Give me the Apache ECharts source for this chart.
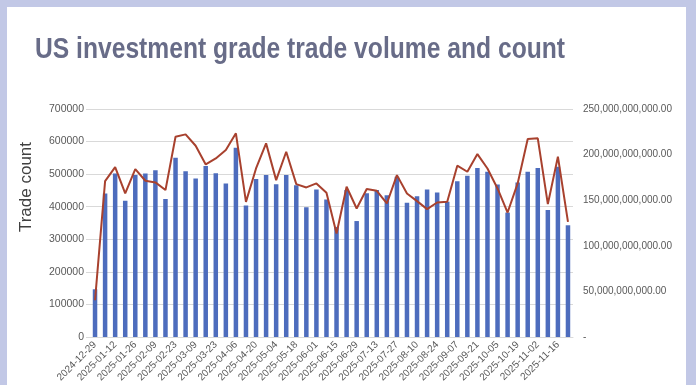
<!DOCTYPE html>
<html>
<head>
<meta charset="utf-8">
<script src="https://cdn.jsdelivr.net/npm/echarts@6/dist/echarts.min.js"></script>
<style>
  html, body { margin: 0; padding: 0; background: #ffffff; }
  #chart {
    width: 696px; height: 385px; background: #ffffff;
    box-shadow: inset 7px 7px 0 0 #c2c8e6, inset -10px 0 0 0 #c2c8e6;
  }
</style>
</head>
<body>
<div id="chart"></div>
<script>
const titleText = 'US investment grade trade volume and count';
const leftAxisName = 'Trade count';

const categories = [
  '2024-12-29','2025-01-05','2025-01-12','2025-01-19','2025-01-26','2025-02-02',
  '2025-02-09','2025-02-16','2025-02-23','2025-03-02','2025-03-09','2025-03-16',
  '2025-03-23','2025-03-30','2025-04-06','2025-04-13','2025-04-20','2025-04-27',
  '2025-05-04','2025-05-11','2025-05-18','2025-05-25','2025-06-01','2025-06-08',
  '2025-06-15','2025-06-22','2025-06-29','2025-07-06','2025-07-13','2025-07-20',
  '2025-07-27','2025-08-03','2025-08-10','2025-08-17','2025-08-24','2025-08-31',
  '2025-09-07','2025-09-14','2025-09-21','2025-09-28','2025-10-05','2025-10-12',
  '2025-10-19','2025-10-26','2025-11-02','2025-11-09','2025-11-16','2025-11-23'
];

// Trade count (bars, left axis)
const tradeCount = [
  146500, 440600, 502000, 418000, 497000, 502000,
  512000, 424000, 550000, 509000, 487000, 525000,
  503000, 471000, 581000, 404000, 485000, 497000,
  469000, 497000, 466000, 398000, 453000, 422000,
  338000, 451000, 356000, 441000, 451000, 435000,
  492000, 412000, 432000, 453000, 444000, 415000,
  478000, 495000, 519000, 507000, 468000, 382000,
  474000, 507000, 519000, 390000, 523000, 343000
];

// Trade volume in billions (line, right axis)
const tradeVolumeBn = [
  40.3, 170.9, 186.3, 157.4, 184.1, 171.3,
  169.5, 161.1, 219.6, 222.2, 209.7, 189.2,
  195.8, 205.0, 223.3, 148.2, 184.8, 212.3,
  172.0, 203.1, 167.6, 164.0, 168.4, 158.1,
  113.5, 164.7, 140.9, 162.2, 160.3, 146.4,
  177.5, 157.4, 149.0, 140.2, 147.5, 148.2,
  187.8, 181.2, 200.6, 184.8, 162.9, 136.5,
  168.4, 217.1, 217.8, 145.7, 197.7, 126.3
];
const tradeVolume = tradeVolumeBn.map(v => v * 1e9);

// measure title to condense it like the reference
const titleFont = 'bold 29px "Liberation Sans Narrow", "Liberation Sans", sans-serif';
const mctx = document.createElement('canvas').getContext('2d');
mctx.font = titleFont;
const titleW = mctx.measureText(titleText).width;
const titleScale = 530 / titleW;

const chart = echarts.init(document.getElementById('chart'), null, { renderer: 'canvas' });
chart.setOption({
  backgroundColor: 'transparent',
  animation: false,
  graphic: [
    {
      type: 'text',
      x: 35, y: 35,
      scaleX: titleScale,
      style: {
        text: titleText,
        font: titleFont,
        fill: '#686c88',
        textVerticalAlign: 'top'
      }
    },
    {
      type: 'text',
      x: 26, y: 187,
      rotation: Math.PI / 2,
      style: {
        text: leftAxisName,
        font: '17px "Liberation Sans", sans-serif',
        fill: '#404040',
        textAlign: 'center',
        textVerticalAlign: 'middle'
      }
    }
  ],
  grid: { left: 90, right: 123, top: 109, bottom: 48, containLabel: false },
  xAxis: {
    type: 'category',
    data: categories,
    axisLine: { show: true, lineStyle: { color: '#d9d9d9', width: 1 } },
    axisTick: { show: false },
    axisLabel: {
      interval: 1,
      rotate: 45,
      fontSize: 10,
      color: '#595959',
      fontFamily: 'Liberation Sans',
      margin: 6
    }
  },
  yAxis: [
    {
      type: 'value',
      min: 0, max: 700000, interval: 100000,
      axisLine: { show: false },
      axisTick: { show: true, length: 4, lineStyle: { color: '#d9d9d9' } },
      splitLine: { show: true, lineStyle: { color: '#d9d9d9', width: 1 } },
      axisLabel: {
        fontSize: 10.5, color: '#595959', fontFamily: 'Liberation Sans', margin: 6,
        formatter: v => String(v)
      }
    },
    {
      type: 'value',
      min: 0, max: 250e9, interval: 50e9,
      position: 'right',
      axisLine: { show: false },
      axisTick: { show: false },
      splitLine: { show: false },
      axisLabel: {
        fontSize: 10, color: '#595959', fontFamily: 'Liberation Sans', margin: 10,
        formatter: v => v === 0 ? '-' : v.toLocaleString('en-US', { minimumFractionDigits: 2, maximumFractionDigits: 2 })
      }
    }
  ],
  series: [
    {
      name: 'Trade count',
      type: 'bar',
      yAxisIndex: 0,
      data: tradeCount,
      barWidth: 4.5,
      itemStyle: { color: '#4d6cbd' }
    },
    {
      name: 'Trade volume',
      type: 'line',
      yAxisIndex: 1,
      data: tradeVolume,
      symbol: 'none',
      lineStyle: { color: '#a8412e', width: 2 },
      z: 3
    }
  ]
});
</script>
</body>
</html>
